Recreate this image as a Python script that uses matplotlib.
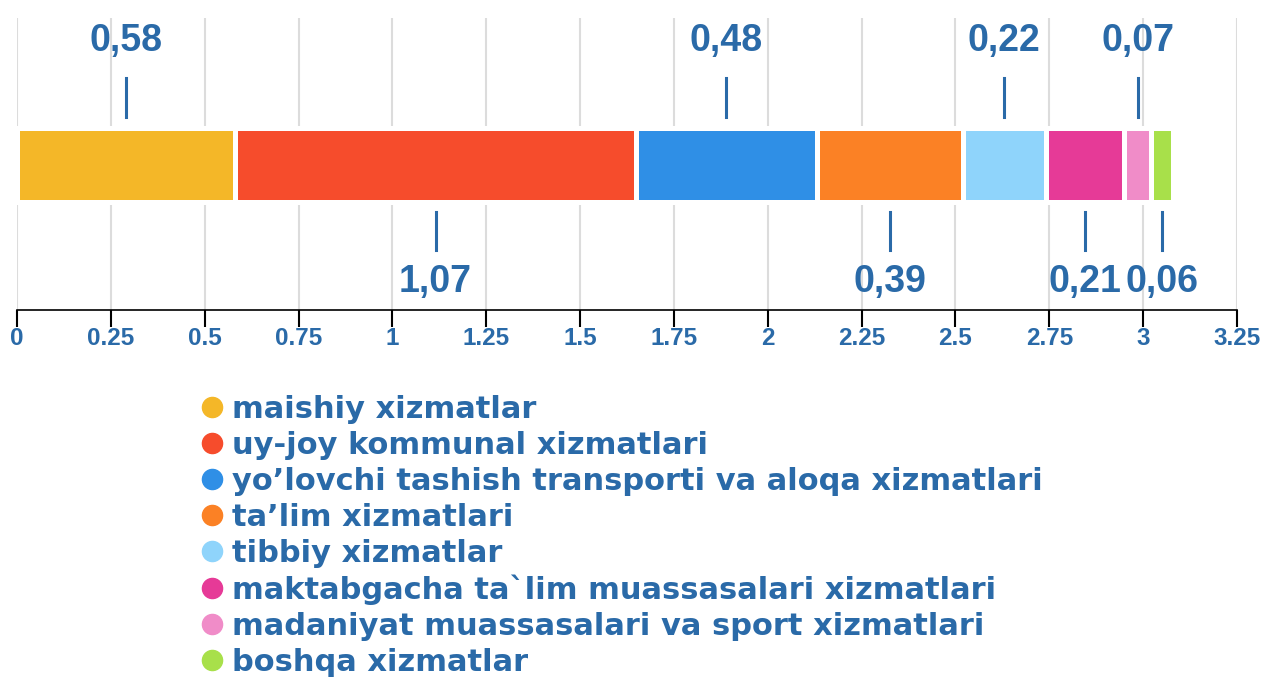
import matplotlib
matplotlib.use('Agg')
import matplotlib.pyplot as plt
import numpy as np
from matplotlib.lines import Line2D

# Data
categories = [
    'maishiy xizmatlar',
    'uy-joy kommunal xizmatlari',
    'yo\u2019lovchi tashish transporti va aloqa xizmatlari',
    'ta\u2019lim xizmatlari',
    'tibbiy xizmatlar',
    'maktabgacha ta`lim muassasalari xizmatlari',
    'madaniyat muassasalari va sport xizmatlari',
    'boshqa xizmatlar',
]
values = [0.58, 1.07, 0.48, 0.39, 0.22, 0.21, 0.07, 0.06]
value_labels = ['0,58', '1,07', '0,48', '0,39', '0,22', '0,21', '0,07', '0,06']
colors = ['#f4b728', '#f64c2c', '#2f8fe6', '#fb8125', '#8fd4fb', '#e63a97', '#f08cc8', '#a8e04a']
x_ticks = [0, 0.25, 0.5, 0.75, 1, 1.25, 1.5, 1.75, 2, 2.25, 2.5, 2.75, 3, 3.25]
x_tick_labels = ['0', '0.25', '0.5', '0.75', '1', '1.25', '1.5', '1.75', '2',
                 '2.25', '2.5', '2.75', '3', '3.25']

plt.rcParams['font.family'] = ['Liberation Sans', 'DejaVu Sans']
blue = '#2a6aa8'

W, H = 1263, 677
fig = plt.figure(figsize=(W / 100, H / 100), dpi=100)
# axes spans pixel rows 18..310, y in pixel units (inverted)
ax = fig.add_axes([17 / W, 1 - 310 / H, 1220 / W, 292 / H])
ax.set_xlim(0, 3.25)
ax.set_ylim(310, 18)

# stacked bar
lefts = np.concatenate([[0], np.cumsum(values)[:-1]])
ax.barh(164.5, values, left=lefts, height=74, color=colors,
        edgecolor='white', linewidth=3.6, zorder=3)

# value labels with leader lines, alternating above / below
for i, (l, v, lab) in enumerate(zip(lefts, values, value_labels)):
    cx = l + v / 2
    if i % 2 == 0:
        ax.plot([cx, cx], [78, 117], color=blue, lw=2.2, zorder=4)
        ax.text(cx, 41, lab, ha='center', va='center', color=blue,
                fontsize=27, fontweight='bold', zorder=5)
    else:
        ax.plot([cx, cx], [212, 250], color=blue, lw=2.2, zorder=4)
        ax.text(cx, 282, lab, ha='center', va='center', color=blue,
                fontsize=27, fontweight='bold', zorder=5)

# axis styling
ax.set_xticks(x_ticks)
ax.set_xticklabels(x_tick_labels)
ax.set_yticks([])
ax.grid(axis='x', color='#dcdcdc', linewidth=1.5, zorder=0)
ax.set_axisbelow(True)
for s in ['top', 'left', 'right']:
    ax.spines[s].set_visible(False)
ax.spines['bottom'].set_linewidth(1.2)
ax.tick_params(axis='x', length=12, width=1.5, color='black',
               labelsize=17.5, labelcolor=blue, pad=0.5)
for t in ax.get_xticklabels():
    t.set_fontweight('bold')

# legend
handles = [Line2D([], [], marker='o', linestyle='', markersize=14.5,
                  markerfacecolor=c, markeredgecolor=c) for c in colors]
fig.legend(handles, categories, loc='upper left',
           bbox_to_anchor=(204 / W, 1 - 395 / H), frameon=False,
           prop={'family': 'DejaVu Sans', 'size': 22, 'weight': 'bold'},
           labelcolor=blue, handlelength=0.5, handletextpad=0.4,
           labelspacing=0.225, borderpad=0, borderaxespad=0)

fig.savefig('out.png', dpi=100)
